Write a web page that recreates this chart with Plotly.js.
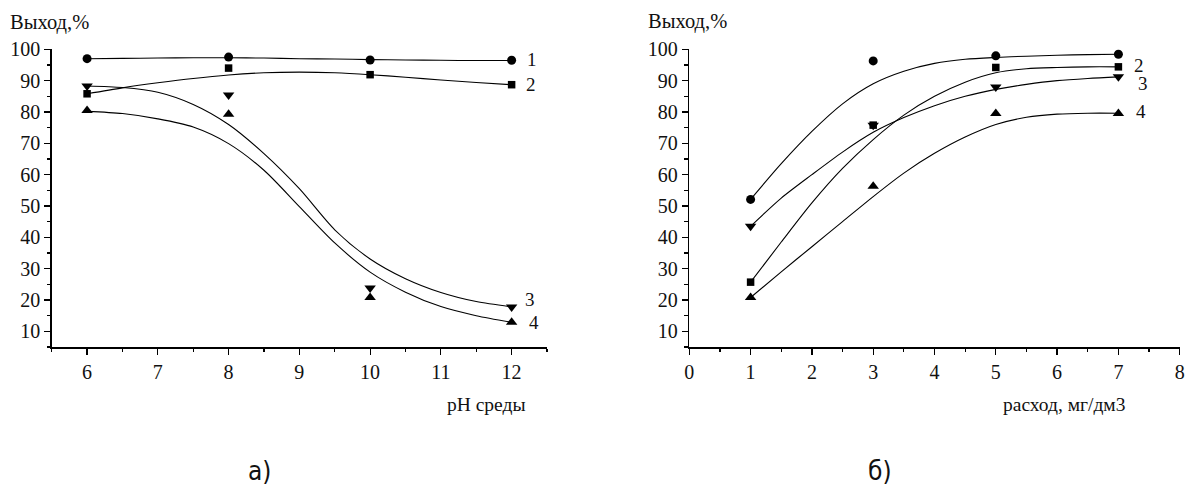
<!DOCTYPE html>
<html><head><meta charset="utf-8">
<script src="https://cdn.plot.ly/plotly-3.0.1.min.js"></script>
<style>html,body{margin:0;padding:0;background:#fff}#chart{width:1185px;height:488px}</style>
</head><body><div id="chart"></div>
<script>
// ---- Chart a): yield vs pH ----
const phX = [6, 8, 10, 12];
const phS1 = [97.0, 97.5, 96.6, 96.5];
const phS2 = [85.8, 94.0, 91.9, 88.7];
const phS3 = [88.3, 85.4, 23.8, 17.8];
const phS4 = [80.5, 79.3, 20.8, 12.9];
// fitted curves
const phFitX = [6, 6.5, 7, 7.5, 8, 8.5, 9, 9.5, 10, 10.5, 11, 11.5, 12];
const phFit1 = [97.0, 97.1, 97.2, 97.3, 97.3, 97.2, 97.0, 96.9, 96.7, 96.6, 96.5, 96.4, 96.4];
const phFit2 = [85.8, 87.7, 89.3, 90.7, 91.8, 92.5, 92.7, 92.5, 91.9, 91.1, 90.2, 89.4, 88.7];
const phFit3 = [88.3, 87.8, 86.3, 82.4, 76.0, 66.7, 55.5, 42.4, 33.1, 26.8, 22.4, 19.5, 17.8];
const phFit4 = [80.2, 79.5, 77.8, 75.2, 69.9, 61.4, 49.8, 38.2, 28.9, 22.5, 17.9, 15.0, 12.9];

// ---- Chart б): yield vs dose ----
const dX = [1, 3, 5, 7];
const dS1 = [52.1, 96.3, 97.9, 98.4];
const dS2 = [25.7, 75.8, 94.2, 94.4];
const dS3 = [43.5, 75.8, 88.0, 91.2];
const dS4 = [20.8, 56.3, 79.5, 79.5];
const dFitX = [1, 1.5, 2, 2.5, 3, 3.5, 4, 4.5, 5, 5.5, 6, 6.5, 7];
const dFit1 = [52.1, 63.5, 73.8, 82.6, 89.0, 93.0, 95.5, 96.8, 97.4, 97.8, 98.1, 98.3, 98.4];
const dFit2 = [25.7, 38.5, 51.0, 62.0, 71.2, 79.0, 85.0, 89.5, 92.5, 93.8, 94.2, 94.4, 94.4];
const dFit3 = [43.5, 52.5, 60.0, 67.2, 73.5, 78.2, 82.0, 85.0, 87.2, 88.8, 90.0, 90.7, 91.2];
const dFit4 = [20.8, 29.0, 37.0, 45.0, 53.0, 60.5, 66.8, 72.0, 76.0, 78.3, 79.3, 79.6, 79.6];

const labelsA = ["1", "2", "3", "4"];
const labelsB = ["1", "2", "3", "4"];
const yTitle = "Выход,%";
const xTitleA = "pH среды";
const xTitleB = "расход, мг/дм3";
const panelA = "а)";
const panelB = "б)";

const symbols = ["circle", "square", "triangle-down", "triangle-up"];
const sizes = [9, 7.5, 10, 10];
const SERIF = "\"Liberation Serif\", \"Times New Roman\", Times, serif";

function fit(x, y, xa, ya) {
  return {x: x, y: y, xaxis: xa, yaxis: ya, mode: "lines", type: "scatter",
    line: {color: "#000", width: 1.1, shape: "spline", smoothing: 0.8}, hoverinfo: "skip"};
}
function pts(x, y, i, xa, ya) {
  return {x: x, y: y, xaxis: xa, yaxis: ya, mode: "markers", type: "scatter",
    marker: {symbol: symbols[i], size: sizes[i], color: "#000"}, cliponaxis: false};
}

const traces = [
  fit(phFitX, phFit1, "x", "y"), fit(phFitX, phFit2, "x", "y"),
  fit(phFitX, phFit3, "x", "y"), fit(phFitX, phFit4, "x", "y"),
  pts(phX, phS1, 0, "x", "y"), pts(phX, phS2, 1, "x", "y"),
  pts(phX, phS3, 2, "x", "y"), pts(phX, phS4, 3, "x", "y"),
  fit(dFitX, dFit1, "x2", "y2"), fit(dFitX, dFit2, "x2", "y2"),
  fit(dFitX, dFit3, "x2", "y2"), fit(dFitX, dFit4, "x2", "y2"),
  pts(dX, dS1, 0, "x2", "y2"), pts(dX, dS2, 1, "x2", "y2"),
  pts(dX, dS3, 2, "x2", "y2"), pts(dX, dS4, 3, "x2", "y2")
];

function tf() { return {family: SERIF, size: 20, color: "#111"}; }
function yax(anchor) {
  return {domain: [0.2889, 0.899], range: [5, 100], tickmode: "array",
    tickvals: [10, 20, 30, 40, 50, 60, 70, 80, 90, 100],
    showline: true, linecolor: "#000", linewidth: 1.5, ticks: "outside", ticklen: 6,
    tickwidth: 1.2, tickcolor: "#000", showgrid: false, zeroline: false,
    tickfont: tf(), anchor: anchor, fixedrange: true,
    minor: {dtick: 5, ticklen: 3.5, tickcolor: "#000", tickwidth: 1.2, ticks: "outside"}};
}
function xax(dom, rng, anchor) {
  return {domain: dom, range: rng, dtick: 1, tick0: 0, showline: true, linecolor: "#000", linewidth: 1.5,
    ticks: "outside", ticklen: 6, tickwidth: 1.2, tickcolor: "#000", showgrid: false,
    zeroline: false, tickfont: tf(), anchor: anchor, fixedrange: true,
    minor: {dtick: 0.5, ticklen: 3.5, tickcolor: "#000", tickwidth: 1.2, ticks: "outside"}};
}

function txtFont(s) { return {family: SERIF, size: s, color: "#111"}; }
const panelFont = {family: "\"Liberation Sans Narrow\", \"DejaVu Sans Condensed\", sans-serif", size: 26, color: "#111"};

const ann = [];
const labAx = [12.29, 12.27, 12.26, 12.31];
const labAy = [96.6, 88.9, 20.1, 12.8];
const labBx = [7.40, 7.33, 7.40, 7.37];
const labBy = [101.0, 94.9, 89.0, 80.0];
labelsA.forEach((t, i) => ann.push({text: t, x: labAx[i], y: labAy[i], xref: "x", yref: "y",
  showarrow: false, font: txtFont(19), xanchor: "center", yanchor: "middle"}));
labelsB.forEach((t, i) => ann.push({text: t, x: labBx[i], y: labBy[i], xref: "x2", yref: "y2",
  showarrow: false, font: txtFont(19), xanchor: "center", yanchor: "middle"}));
ann.push({text: yTitle, xref: "paper", yref: "paper", x: 8 / 1185, y: 1 - 23 / 488,
  xanchor: "left", yanchor: "middle", showarrow: false, font: txtFont(20.5)});
ann.push({text: yTitle, xref: "paper", yref: "paper", x: 646 / 1185, y: 1 - 22 / 488,
  xanchor: "left", yanchor: "middle", showarrow: false, font: txtFont(20.5)});
ann.push({text: xTitleA, xref: "paper", yref: "paper", x: 528 / 1185, y: 1 - 404 / 488,
  xanchor: "right", yanchor: "middle", showarrow: false, font: txtFont(19.5)});
ann.push({text: xTitleB, xref: "paper", yref: "paper", x: 1127 / 1185, y: 1 - 404 / 488,
  xanchor: "right", yanchor: "middle", showarrow: false, font: txtFont(19.5)});
ann.push({text: panelA, xref: "paper", yref: "paper", x: 259 / 1185, y: 1 - 471 / 488,
  xanchor: "center", yanchor: "middle", showarrow: false, font: panelFont});
ann.push({text: panelB, xref: "paper", yref: "paper", x: 880 / 1185, y: 1 - 471 / 488,
  xanchor: "center", yanchor: "middle", showarrow: false, font: panelFont});

const layout = {
  width: 1185, height: 488, margin: {l: 0, r: 0, t: 0, b: 0},
  font: {family: SERIF, size: 20, color: "#111"},
  paper_bgcolor: "#fff", plot_bgcolor: "#fff", showlegend: false,
  xaxis: xax([51.7 / 1185, 547 / 1185], [5.5, 12.5], "y"),
  yaxis: yax("x"),
  xaxis2: xax([689.3 / 1185, 1179.7 / 1185], [0, 8], "y2"),
  yaxis2: yax("x2"),
  annotations: ann
};
Plotly.newPlot("chart", traces, layout, {staticPlot: true, displayModeBar: false});
</script></body></html>
